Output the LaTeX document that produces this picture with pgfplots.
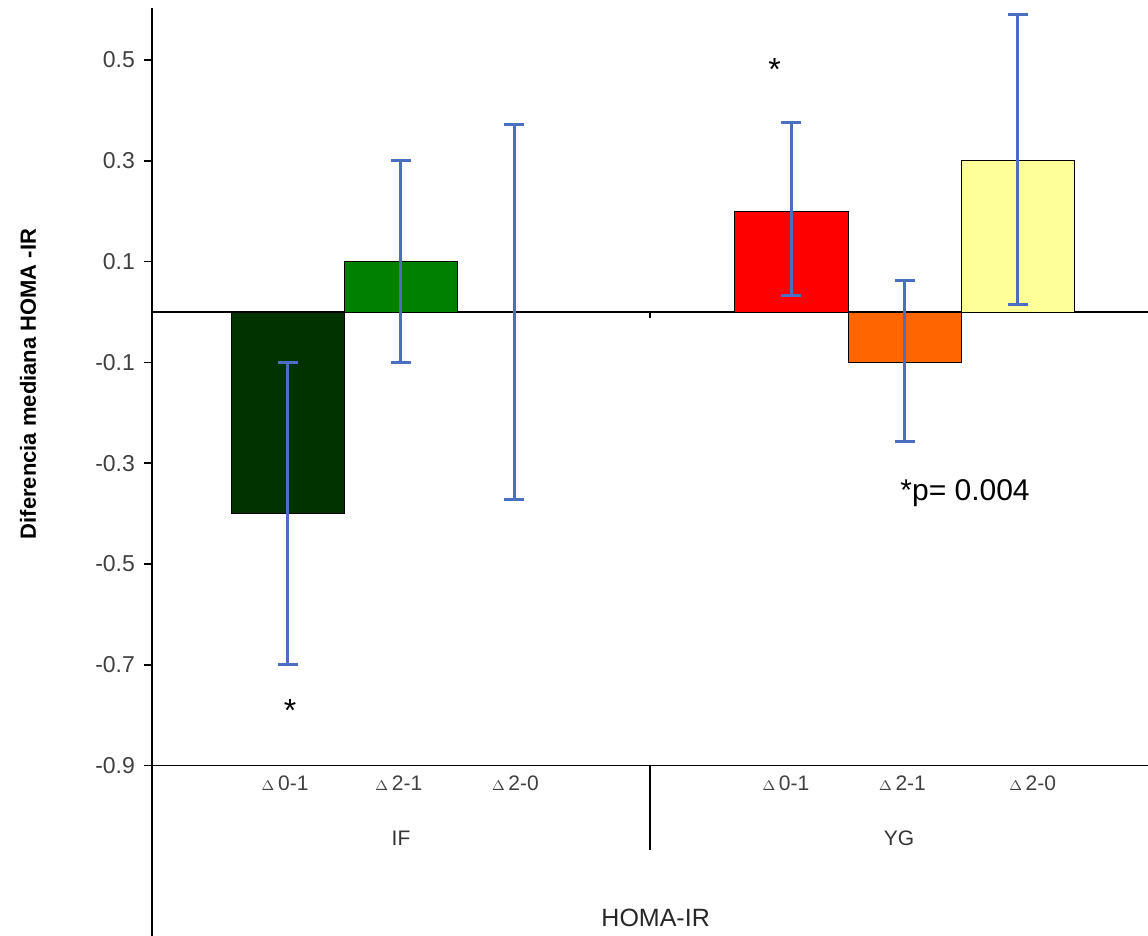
\documentclass[border=0pt]{standalone}
\usepackage{pgfplots}
\pgfplotsset{compat=1.18}
\usepackage{fontspec}
\setmainfont{Liberation Sans}

\definecolor{dkgreen}{HTML}{003300}
\definecolor{midgreen}{HTML}{008000}
\definecolor{barred}{HTML}{FF0000}
\definecolor{barorange}{HTML}{FF6600}
\definecolor{baryellow}{HTML}{FFFF99}
\definecolor{errblue}{HTML}{4A6FC0}

\begin{document}
\begin{tikzpicture}
\begin{axis}[
  at={(0,0)}, anchor=south west,
  scale only axis,
  width=498pt, height=464pt,
  xmin=0, xmax=8.8,
  ymin=-1.238, ymax=0.603,
  axis x line=none,
  axis y line=left,
  axis line style={-, line width=0.9pt, black},
  ytick={-0.9,-0.7,-0.5,-0.3,-0.1,0.1,0.3,0.5},
  yticklabels={-0.9,-0.7,-0.5,-0.3,-0.1,0.1,0.3,0.5},
  tick align=outside,
  major tick length=4pt,
  ytick style={line width=0.8pt, black},
  yticklabel style={font=\fontsize{11.5}{13}\selectfont, text=black!75, xshift=-1pt},
  extra y ticks={0,-0.9},
  extra y tick labels={},
  extra y tick style={major tick length=0pt, grid=major, major grid style={black, line width=0.8pt}},
  ybar, bar width=1, bar shift=0pt,
  clip=false,
  error bars/y dir=both,
  error bars/y explicit,
  error bars/error bar style={errblue, line width=1.5pt},
  error bars/error mark options={errblue, line width=1.5pt, mark size=5pt, rotate=90},
]
% IF group
\addplot[fill=dkgreen, draw=black] coordinates {(1.2,-0.4) +- (0,0.3)};
\addplot[fill=midgreen, draw=black] coordinates {(2.2,0.1) +- (0,0.2)};
\addplot[fill=none, draw=none] coordinates {(3.2,0) +- (0,0.372)};
% YG group
\addplot[fill=barred, draw=black] coordinates {(5.65,0.2) += (0,0.175) -= (0,0.168)};
\addplot[fill=barorange, draw=black] coordinates {(6.65,-0.1) += (0,0.163) -= (0,0.158)};
\addplot[fill=baryellow, draw=black] coordinates {(7.65,0.3) += (0,0.29) -= (0,0.286)};

% group separator
\draw[black, line width=0.9pt] (axis cs:4.4,-0.9) -- (axis cs:4.4,-1.067);
\draw[black, line width=0.7pt] (axis cs:4.4,0) -- (axis cs:4.4,-0.012);

% category labels
\begin{scope}[every node/.style={font=\fontsize{10.5}{12}\selectfont, text=black!75}]
\node at (axis cs:1.175,-0.935) {$\scriptstyle\Delta$\,0-1};
\node at (axis cs:2.18,-0.935) {$\scriptstyle\Delta$\,2-1};
\node at (axis cs:3.21,-0.935) {$\scriptstyle\Delta$\,2-0};
\node at (axis cs:5.6,-0.935) {$\scriptstyle\Delta$\,0-1};
\node at (axis cs:6.63,-0.935) {$\scriptstyle\Delta$\,2-1};
\node at (axis cs:7.78,-0.935) {$\scriptstyle\Delta$\,2-0};
\end{scope}
\node[font=\fontsize{10.5}{12}\selectfont, text=black!80] at (axis cs:2.2,-1.044) {IF};
\node[font=\fontsize{10.5}{12}\selectfont, text=black!80] at (axis cs:6.6,-1.044) {YG};
\node[font=\fontsize{12.5}{14}\selectfont, text=black!85] at (axis cs:4.45,-1.202) {HOMA-IR};

% significance marks
\node[font=\fontsize{16}{18}\selectfont] at (axis cs:1.22,-0.79) {*};
\node[font=\fontsize{16}{18}\selectfont] at (axis cs:5.5,0.48) {*};
\node[font=\fontsize{15}{17}\selectfont, anchor=west] at (axis cs:6.55,-0.36) {*p= 0.004};
\end{axis}
\node[rotate=90, font=\bfseries\fontsize{11}{13}\selectfont] at (-62pt,276pt) {Diferencia mediana HOMA -IR};
\pgfresetboundingbox
\path (-76pt,0pt) rectangle (498pt,468pt);
\end{tikzpicture}
\end{document}
